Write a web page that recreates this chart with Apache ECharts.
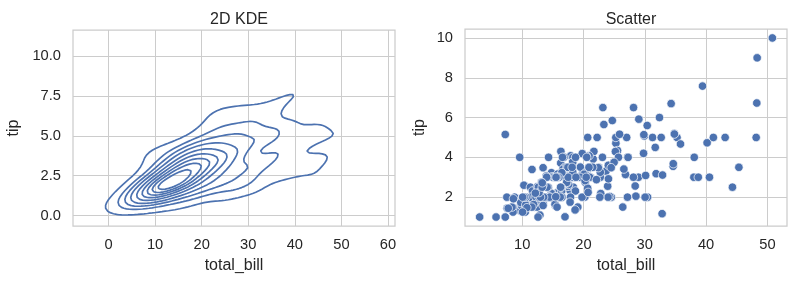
<!DOCTYPE html>
<html><head><meta charset="utf-8">
<script src="https://cdn.jsdelivr.net/npm/echarts@6/dist/echarts.min.js"></script>
<style>html,body{margin:0;padding:0;background:#fff}#c{width:796px;height:284px}</style>
</head><body><div id="c"></div>
<script>
const totalBill = [16.99,10.34,21.01,23.68,24.59,25.29,8.77,26.88,15.04,14.78,10.27,35.26,15.42,18.43,14.83,21.58,10.33,16.29,16.97,20.65,17.92,20.29,15.77,39.42,19.82,17.81,13.37,12.69,21.7,19.65,9.55,18.35,15.06,20.69,17.78,24.06,16.31,16.93,18.69,31.27,16.04,17.46,13.94,9.68,30.4,18.29,22.23,32.4,28.55,18.04,12.54,10.29,34.81,9.94,25.56,19.49,38.01,26.41,11.24,48.27,20.29,13.81,11.02,18.29,17.59,20.08,16.45,3.07,20.23,15.01,12.02,17.07,26.86,25.28,14.73,10.51,17.92,27.2,22.76,17.29,19.44,16.66,10.07,32.68,15.98,34.83,13.03,18.28,24.71,21.16,28.97,22.49,5.75,16.32,22.75,40.17,27.28,12.03,21.01,12.46,11.35,15.38,44.3,22.42,20.92,15.36,20.49,25.21,18.24,14.31,14.0,7.25,38.07,23.95,25.71,17.31,29.93,10.65,12.43,24.08,11.69,13.42,14.26,15.95,12.48,29.8,8.52,14.52,11.38,22.82,19.08,20.27,11.17,12.26,18.26,8.51,10.33,14.15,16.0,13.16,17.47,34.3,41.19,27.05,16.43,8.35,18.64,11.87,9.78,7.51,14.07,13.13,17.26,24.55,19.77,29.85,48.17,25.0,13.39,16.49,21.5,12.66,16.21,13.81,17.51,24.52,20.76,31.71,10.59,10.63,50.81,15.81,7.25,31.85,16.82,32.9,17.89,14.48,9.6,34.63,34.65,23.33,45.35,23.17,40.55,20.69,20.9,30.46,18.15,23.1,15.69,19.81,28.44,15.48,16.58,7.56,10.34,43.11,13.0,13.51,18.71,12.74,13.0,16.4,20.53,16.47,26.59,38.73,24.27,12.76,30.06,25.89,48.33,13.27,28.17,12.9,28.15,11.59,7.74,30.14,12.16,13.42,8.58,15.98,13.42,16.27,10.09,20.45,13.28,22.12,24.01,15.69,11.61,10.77,15.53,10.07,12.6,32.83,35.83,29.03,27.18,22.67,17.82,18.78];
const tip = [1.01,1.66,3.5,3.31,3.61,4.71,2.0,3.12,1.96,3.23,1.71,5.0,1.57,3.0,3.02,3.92,1.67,3.71,3.5,3.35,4.08,2.75,2.23,7.58,3.18,2.34,2.0,2.0,4.3,3.0,1.45,2.5,3.0,2.45,3.27,3.6,2.0,3.07,2.31,5.0,2.24,2.54,3.06,1.32,5.6,3.0,5.0,6.0,2.05,3.0,2.5,2.6,5.2,1.56,4.34,3.51,3.0,1.5,1.76,6.73,3.21,2.0,1.98,3.76,2.64,3.15,2.47,1.0,2.01,2.09,1.97,3.0,3.14,5.0,2.2,1.25,3.08,4.0,3.0,2.71,3.0,3.4,1.83,5.0,2.03,5.17,2.0,4.0,5.85,3.0,3.0,3.5,1.0,4.3,3.25,4.73,4.0,1.5,3.0,1.5,2.5,3.0,2.5,3.48,4.08,1.64,4.06,4.29,3.76,4.0,3.0,1.0,4.0,2.55,4.0,3.5,5.07,1.5,1.8,2.92,2.31,1.68,2.5,2.0,2.52,4.2,1.48,2.0,2.0,2.18,1.5,2.83,1.5,2.0,3.25,1.25,2.0,2.0,2.0,2.75,3.5,6.7,5.0,5.0,2.3,1.5,1.36,1.63,1.73,2.0,2.5,2.0,2.74,2.0,2.0,5.14,5.0,3.75,2.61,2.0,3.5,2.5,2.0,2.0,3.0,3.48,2.24,4.5,1.61,2.0,10.0,3.16,5.15,3.18,4.0,3.11,2.0,2.0,4.0,3.55,3.68,5.65,3.5,6.5,3.0,5.0,3.5,2.0,3.5,4.0,1.5,4.19,2.56,2.02,4.0,1.44,2.0,5.0,2.0,2.0,4.0,2.01,2.0,2.5,4.0,3.23,3.41,3.0,2.03,2.23,2.0,5.16,9.0,2.5,6.5,1.1,3.0,1.5,1.44,3.09,2.2,3.48,1.92,3.0,1.58,2.5,2.0,3.0,2.72,2.88,2.0,3.0,3.39,1.47,3.0,1.25,1.0,1.17,4.67,5.92,2.0,2.0,1.75,3.0];
const titles = ['2D KDE', 'Scatter'];
const xName = 'total_bill';
const yName = 'tip';
const kdeXTicks = [0, 10, 20, 30, 40, 50, 60];
const kdeYTicks = [0, 2.5, 5, 7.5, 10];
const scatterXTicks = [10, 20, 30, 40, 50];
const scatterYTicks = [2, 4, 6, 8, 10];
const isoLevelsCount = 10, isoThresh = 0.05;

// ---- Gaussian KDE (scott bandwidth) like seaborn/scipy ----
const n = Math.min(totalBill.length, tip.length);
const X = totalBill.slice(0, n), Y = tip.slice(0, n);
const mean = a => a.reduce((s, v) => s + v, 0) / a.length;
const mx = mean(X), my = mean(Y);
let sxx = 0, syy = 0, sxy = 0;
for (let i = 0; i < n; i++) { const dx = X[i] - mx, dy = Y[i] - my; sxx += dx * dx; syy += dy * dy; sxy += dx * dy; }
sxx /= (n - 1); syy /= (n - 1); sxy /= (n - 1);
const f = Math.pow(n, -1 / 6);
const cxx = sxx * f * f, cyy = syy * f * f, cxy = sxy * f * f;
const det = cxx * cyy - cxy * cxy;
const ixx = cyy / det, iyy = cxx / det, ixy = -cxy / det;
const norm = 1 / (n * 2 * Math.PI * Math.sqrt(det));
const bwx = Math.sqrt(cxx), bwy = Math.sqrt(cyy), cut = 3, G = 200;
const gx0 = Math.min(...X) - cut * bwx, gx1 = Math.max(...X) + cut * bwx;
const gy0 = Math.min(...Y) - cut * bwy, gy1 = Math.max(...Y) + cut * bwy;
const xs = [], ys = [];
for (let i = 0; i < G; i++) { xs.push(gx0 + (gx1 - gx0) * i / (G - 1)); ys.push(gy0 + (gy1 - gy0) * i / (G - 1)); }
const Z = [];
const flat = [];
for (let j = 0; j < G; j++) {
  const row = new Float64Array(G);
  for (let i = 0; i < G; i++) {
    let s = 0;
    for (let k = 0; k < n; k++) {
      const dx = xs[i] - X[k], dy = ys[j] - Y[k];
      s += Math.exp(-0.5 * (ixx * dx * dx + 2 * ixy * dx * dy + iyy * dy * dy));
    }
    row[i] = s * norm; flat.push(row[i]);
  }
  Z.push(row);
}
// iso-proportion levels
const sorted = flat.slice().sort((a, b) => b - a);
const total = sorted.reduce((s, v) => s + v, 0);
const cum = []; let acc = 0;
for (const v of sorted) { acc += v; cum.push(acc / total); }
const levels = [];
for (let q = 0; q < isoLevelsCount; q++) {
  const p = isoThresh + (1 - isoThresh) * q / (isoLevelsCount - 1);
  const target = 1 - p;
  let lo = 0, hi = cum.length;
  while (lo < hi) { const mid = (lo + hi) >> 1; if (cum[mid] < target) lo = mid + 1; else hi = mid; }
  levels.push(sorted[Math.min(lo, sorted.length - 1)]);
}
// marching squares
function contour(level) {
  const pts = new Map(), adj = new Map();
  const eid = (type, i, j) => (j * G + i) * 2 + type;
  function pt(type, i, j) {
    const id = eid(type, i, j);
    if (!pts.has(id)) {
      let p;
      if (type === 0) { const a = Z[j][i], b = Z[j][i + 1], t = (level - a) / (b - a); p = [xs[i] + t * (xs[i + 1] - xs[i]), ys[j]]; }
      else { const a = Z[j][i], b = Z[j + 1][i], t = (level - a) / (b - a); p = [xs[i], ys[j] + t * (ys[j + 1] - ys[j])]; }
      pts.set(id, p);
    }
    return id;
  }
  function link(a, b) {
    if (!adj.has(a)) adj.set(a, []); if (!adj.has(b)) adj.set(b, []);
    adj.get(a).push(b); adj.get(b).push(a);
  }
  for (let j = 0; j < G - 1; j++) for (let i = 0; i < G - 1; i++) {
    const a = Z[j][i], b = Z[j][i + 1], c = Z[j + 1][i + 1], d = Z[j + 1][i];
    const idx = (a > level ? 1 : 0) | (b > level ? 2 : 0) | (c > level ? 4 : 0) | (d > level ? 8 : 0);
    if (idx === 0 || idx === 15) continue;
    const E = [() => pt(0, i, j), () => pt(1, i + 1, j), () => pt(0, i, j + 1), () => pt(1, i, j)];
    const crossed = [(a > level) !== (b > level), (b > level) !== (c > level), (d > level) !== (c > level), (a > level) !== (d > level)];
    const cr = [0, 1, 2, 3].filter(k => crossed[k]);
    if (cr.length === 2) link(E[cr[0]](), E[cr[1]]());
    else if (cr.length === 4) {
      const center = (a + b + c + d) / 4;
      const sepBD = (idx === 5) === (center > level);
      if (sepBD) { link(E[0](), E[1]()); link(E[2](), E[3]()); }
      else { link(E[3](), E[0]()); link(E[1](), E[2]()); }
    }
  }
  const visited = new Set(), lines = [];
  const starts = [...adj.keys()].sort((p, q) => adj.get(p).length - adj.get(q).length);
  for (const s of starts) {
    if (visited.has(s)) continue;
    const line = [pts.get(s)]; visited.add(s);
    let cur = s;
    while (true) {
      const nx = adj.get(cur).find(v => !visited.has(v));
      if (nx === undefined) break;
      visited.add(nx); line.push(pts.get(nx)); cur = nx;
    }
    if (adj.get(cur).includes(s) && line.length > 2) line.push(pts.get(s));
    if (line.length > 1) lines.push(line);
  }
  return lines;
}
const BLUE = '#4c72b0', TXT = '#262626', GRIDC = '#cccccc';
const FONT = 'Arial, "Liberation Sans", sans-serif';
const TICK_FS = 14.7, LABEL_FS = 16;
const series = [];
levels.forEach(lv => {
  contour(lv).forEach(line => series.push({
    type: 'line', xAxisIndex: 0, yAxisIndex: 0, data: line, showSymbol: false, symbol: 'none',
    lineStyle: { color: BLUE, width: 1.7 }, silent: true, animation: false
  }));
});
series.push({
  type: 'scatter', xAxisIndex: 1, yAxisIndex: 1,
  data: X.map((x, i) => [x, Y[i]]), symbolSize: 8.5,
  itemStyle: { color: BLUE, borderColor: '#ffffff', borderWidth: 0.7, opacity: 1 },
  animation: false
});
function xAx(grid, min, max, ticks) {
  return {
    type: 'value', gridIndex: grid, min, max,
    axisLine: { show: false }, axisTick: { show: false, customValues: ticks },
    axisLabel: { customValues: ticks, color: TXT, fontSize: TICK_FS, fontFamily: FONT, margin: 11 },
    splitLine: { show: true, lineStyle: { color: GRIDC, width: 1 } },
    name: xName, nameLocation: 'middle', nameGap: 32,
    nameTextStyle: { color: TXT, fontSize: LABEL_FS, fontFamily: FONT }
  };
}
function yAx(grid, min, max, ticks, fmt, gap) {
  return {
    type: 'value', gridIndex: grid, min, max,
    axisLine: { show: false }, axisTick: { show: false, customValues: ticks },
    axisLabel: { customValues: ticks, color: TXT, fontSize: TICK_FS, fontFamily: FONT, margin: 12, formatter: fmt },
    splitLine: { show: true, lineStyle: { color: GRIDC, width: 1 } },
    name: yName, nameLocation: 'middle', nameGap: gap, nameRotate: 90,
    nameTextStyle: { color: TXT, fontSize: LABEL_FS, fontFamily: FONT }
  };
}
const sxMin = Math.min(...X), sxMax = Math.max(...X), syMin = Math.min(...Y), syMax = Math.max(...Y);
const mX = 0.05 * (sxMax - sxMin), mY = 0.05 * (syMax - syMin);
const option = {
  backgroundColor: '#ffffff', animation: false,
  title: [
    { text: titles[0], left: 234, top: 7, textAlign: 'center', textStyle: { color: TXT, fontSize: LABEL_FS, fontWeight: 'normal', fontFamily: FONT } },
    { text: titles[1], left: 626, top: 7, textAlign: 'center', textStyle: { color: TXT, fontSize: LABEL_FS, fontWeight: 'normal', fontFamily: FONT } }
  ],
  grid: [
    { left: 73, top: 30, width: 322, height: 196, show: true, borderColor: GRIDC, borderWidth: 1.25, containLabel: false },
    { left: 465, top: 29, width: 322, height: 197, show: true, borderColor: GRIDC, borderWidth: 1.25, containLabel: false }
  ],
  xAxis: [xAx(0, gx0, gx1, kdeXTicks), xAx(1, sxMin - mX, sxMax + mX, scatterXTicks)],
  yAxis: [yAx(0, gy0, gy1, kdeYTicks, v => v.toFixed(1), 51), yAx(1, syMin - mY, syMax + mY, scatterYTicks, v => String(v), 37)],
  series
};
const chart = echarts.init(document.getElementById('c'), null, { renderer: 'canvas' });
chart.setOption(option);
</script></body></html>
